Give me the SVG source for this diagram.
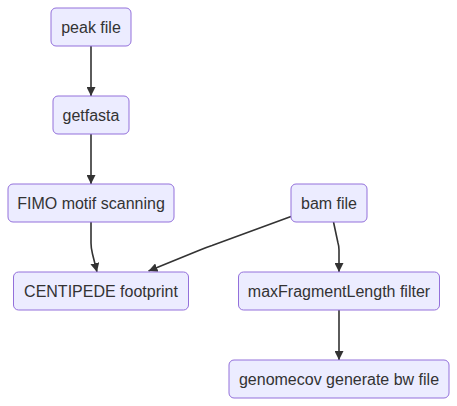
<svg xmlns="http://www.w3.org/2000/svg" width="457" height="406" viewBox="0 0 457 406">
<style>
.node rect{fill:#ECECFF;stroke:#9370DB;stroke-width:1}
.node text{font-family:"Liberation Sans",Arial,sans-serif;font-size:16px;fill:#333333;text-anchor:middle;dominant-baseline:central}
.edge{fill:none;stroke:#333333;stroke-width:1.6}
</style>
<defs>
<marker id="arrow" viewBox="0 0 10 10" refX="10" refY="5" markerUnits="userSpaceOnUse" markerWidth="9" markerHeight="9" orient="auto">
<path d="M0,0 L10,5 L0,10 z" fill="#333333"/>
</marker>
</defs>
<rect width="457" height="406" fill="#ffffff"/>
<g id="connectors">
<path class="edge" d="M91,46 L91,96" marker-end="url(#arrow)"/>
<path class="edge" d="M91,134 L91,184" marker-end="url(#arrow)"/>
<path class="edge" d="M91,222 L91,243 Q91,248 92.5,254 L97,272" marker-end="url(#arrow)"/>
<path class="edge" d="M291,216.5 L212,245.5 Q206,247.5 200,250 L148.5,271" marker-end="url(#arrow)"/>
<path class="edge" d="M333.5,222 L338,243 Q339,246 339,250 L339,272" marker-end="url(#arrow)"/>
<path class="edge" d="M339,310 L339,360" marker-end="url(#arrow)"/>
</g>
<g id="peak" class="node"><rect x="51" y="8" width="80" height="38" rx="5"/><text x="91" y="27">peak file</text></g>
<g id="getfasta" class="node"><rect x="53" y="96" width="76" height="38" rx="5"/><text x="91" y="115">getfasta</text></g>
<g id="fimo" class="node"><rect x="8" y="184" width="166" height="38" rx="5"/><text x="91" y="203">FIMO motif scanning</text></g>
<g id="centipede" class="node"><rect x="13.5" y="272" width="175" height="38" rx="5"/><text x="101" y="291">CENTIPEDE footprint</text></g>
<g id="bam" class="node"><rect x="291" y="184" width="76" height="38" rx="5"/><text x="329" y="203">bam file</text></g>
<g id="maxfrag" class="node"><rect x="238.5" y="272" width="201" height="38" rx="5"/><text x="339" y="291">maxFragmentLength filter</text></g>
<g id="genomecov" class="node"><rect x="229" y="360" width="220" height="38" rx="5"/><text x="339" y="379">genomecov generate bw file</text></g>
</svg>
